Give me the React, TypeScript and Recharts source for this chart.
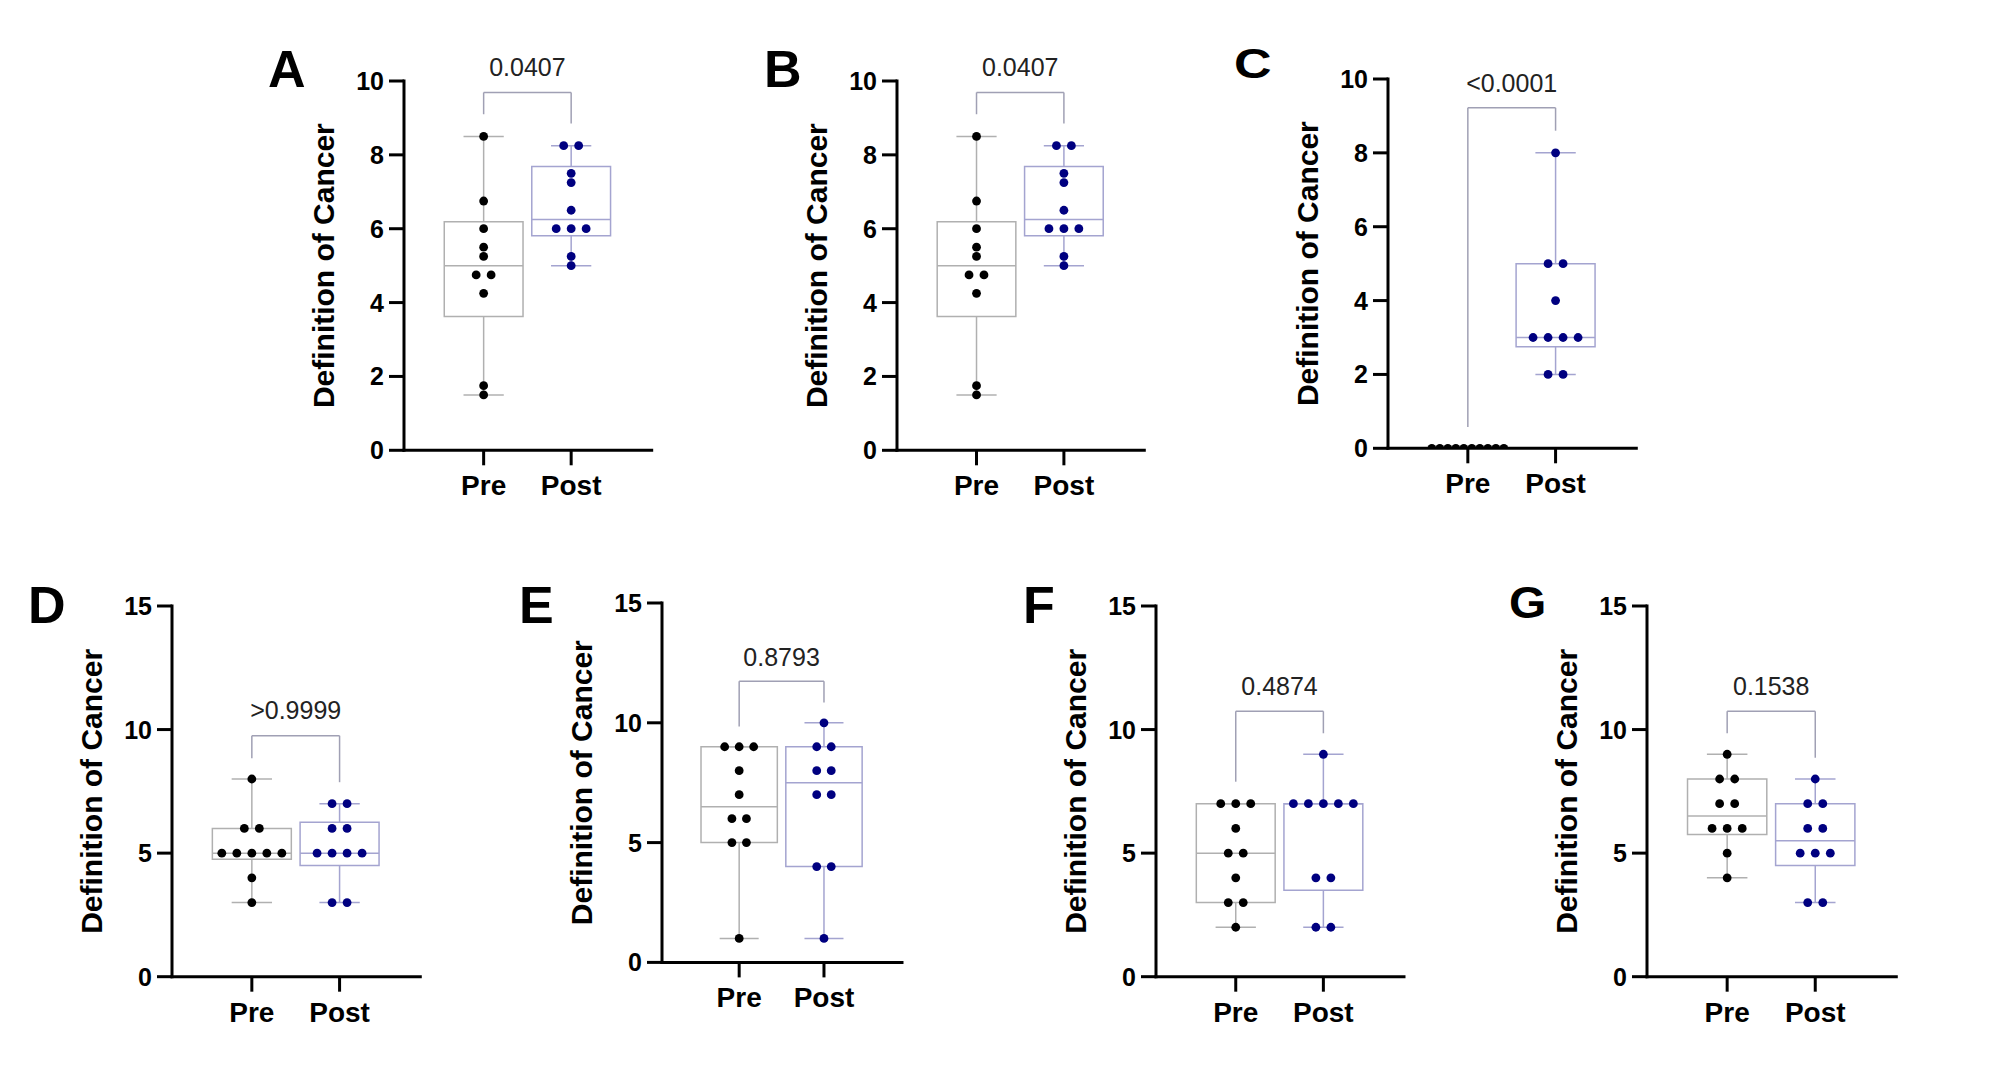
import React from 'react';
import {
    ComposedChart,
    Scatter,
    XAxis,
    YAxis,
    ReferenceArea,
    ReferenceLine,
    ReferenceDot,
} from 'recharts';

// categories
const groups = ['Pre', 'Post'];

// panel scores (10 participants each)
const aPre = [8.5, 6.75, 6, 5.5, 5.25, 4.75, 4.75, 4.25, 1.75, 1.5];
const aPost = [8.25, 8.25, 7.5, 7.25, 6.5, 6, 6, 6, 5.25, 5];
const bPre = [8.5, 6.75, 6, 5.5, 5.25, 4.75, 4.75, 4.25, 1.75, 1.5];
const bPost = [8.25, 8.25, 7.5, 7.25, 6.5, 6, 6, 6, 5.25, 5];
const cPre = [0, 0, 0, 0, 0, 0, 0, 0, 0, 0];
const cPost = [8, 5, 5, 4, 3, 3, 3, 3, 2, 2];
const dPre = [8, 6, 6, 5, 5, 5, 5, 5, 4, 3];
const dPost = [7, 7, 6, 6, 5, 5, 5, 5, 3, 3];
const ePre = [9, 9, 9, 8, 7, 6, 6, 5, 5, 1];
const ePost = [10, 9, 9, 8, 8, 7, 7, 4, 4, 1];
const fPre = [7, 7, 7, 6, 5, 5, 4, 3, 3, 2];
const fPost = [9, 7, 7, 7, 7, 7, 4, 4, 2, 2];
const gPre = [9, 8, 8, 7, 7, 6, 6, 6, 5, 4];
const gPost = [8, 7, 7, 6, 6, 5, 5, 5, 3, 3];

// comparison brackets
const pValues = ['0.0407', '0.0407', '<0.0001', '>0.9999', '0.8793', '0.4874', '0.1538'];
const bracketLeft = [9.1, 9.1, 0.58, 8.84, 9.85, 7.89, 9.85];
const bracketTop = [9.69, 9.69, 9.22, 9.75, 11.73, 10.74, 10.74];
const bracketRight = [8.85, 8.85, 8.6, 7.87, 10.85, 9.85, 8.86];
const pLabelY = [10.37, 10.37, 9.88, 10.79, 12.75, 11.76, 11.76];

// tick labels
const ticks10 = [0, 2, 4, 6, 8, 10];
const ticks15 = [0, 5, 10, 15];
const panelLetters = ['A', 'B', 'C', 'D', 'E', 'F', 'G'];

const FONT = '"Liberation Sans", Arial, sans-serif';
const YW = 120;
const MT = 80;
const XH = 70;
const MR = 10;
const UNIT_PX = 87.7;
const DOT_R = 4.4;

const preStyle = { dot: '#000000', line: '#b0b0b0' };
const postStyle = { dot: '#000080', line: '#a4a4d0' };

// plot boxes of each panel in the page
const layout = [
    { left: 404, top: 80.7, right: 651.7, bottom: 450 },
    { left: 896.7, top: 80.7, right: 1144, bottom: 450 },
    { left: 1387.7, top: 79, right: 1636, bottom: 448.3 },
    { left: 171.7, top: 606, right: 420, bottom: 976.7 },
    { left: 661.7, top: 603.3, right: 901.7, bottom: 962.7 },
    { left: 1156, top: 606, right: 1404, bottom: 976.7 },
    { left: 1646.7, top: 606, right: 1896, bottom: 976.7 },
];

const letterPos = [
    { x: 268, y: 87, size: 52, sy: 1 },
    { x: 764, y: 87, size: 52, sy: 1 },
    { x: 1234, y: 78.5, size: 52, sy: 0.82 },
    { x: 28, y: 623, size: 52, sy: 1 },
    { x: 519, y: 623, size: 52, sy: 1 },
    { x: 1023, y: 623, size: 52, sy: 1 },
    { x: 1509, y: 618, size: 48, sy: 0.92 },
];

function quantile(sorted: number[], p: number) {
    const n = sorted.length;
    const pos = (n + 1) * p;
    const lo = Math.floor(pos);
    const frac = pos - lo;
    if (lo < 1) return sorted[0];
    if (lo >= n) return sorted[n - 1];
    return sorted[lo - 1] + frac * (sorted[lo] - sorted[lo - 1]);
}

function boxStats(values: number[]) {
    const s = [...values].sort((a, b) => a - b);
    return { min: s[0], q1: quantile(s, 0.25), med: quantile(s, 0.5), q3: quantile(s, 0.75), max: s[s.length - 1] };
}

// spread equal values side by side like a column scatter
function spread(values: number[], center: number) {
    const counts: Record<string, number> = {};
    values.forEach((v) => (counts[v] = (counts[v] || 0) + 1));
    const seen: Record<string, number> = {};
    return values.map((v) => {
        const k = counts[v];
        const i = (seen[v] = seen[v] === undefined ? 0 : seen[v] + 1);
        const step = Math.min(15, 80 / k) / UNIT_PX;
        return { x: center + (i - (k - 1) / 2) * step, y: v };
    });
}

const yLabel = (props: any) => {
    const vb = props.viewBox || {};
    const x = vb.x + vb.width - 80;
    const y = vb.y + vb.height / 2;
    return (
        <text
            x={x}
            y={y}
            transform={`rotate(-90 ${x} ${y})`}
            textAnchor="middle"
            dominantBaseline="central"
            fontSize={30}
            fontWeight={700}
            fill="#000"
            fontFamily={FONT}
        >
            Definition of Cancer
        </text>
    );
};

const yTick = (props: any) => (
    <text
        x={props.x}
        y={props.y}
        textAnchor="end"
        dominantBaseline="central"
        fontSize={25}
        fontWeight={700}
        fill="#000"
        fontFamily={FONT}
    >
        {props.payload.value}
    </text>
);

const xTick = (props: any) => (
    <text
        x={props.x}
        y={props.y}
        dy="0.71em"
        textAnchor="middle"
        fontSize={28}
        fontWeight={700}
        fill="#000"
        fontFamily={FONT}
    >
        {groups[props.payload.value - 1]}
    </text>
);

function BoxParts({ values, center, color }: { values: number[]; center: number; color: string }) {
    const st = boxStats(values);
    return [
        <ReferenceLine key="wl" segment={[{ x: center, y: st.min }, { x: center, y: st.q1 }]} stroke={color} strokeWidth={1.5} ifOverflow="visible" />,
        <ReferenceLine key="wh" segment={[{ x: center, y: st.q3 }, { x: center, y: st.max }]} stroke={color} strokeWidth={1.5} ifOverflow="visible" />,
        <ReferenceLine key="cl" segment={[{ x: center - 0.23, y: st.min }, { x: center + 0.23, y: st.min }]} stroke={color} strokeWidth={1.5} ifOverflow="visible" />,
        <ReferenceLine key="ch" segment={[{ x: center - 0.23, y: st.max }, { x: center + 0.23, y: st.max }]} stroke={color} strokeWidth={1.5} ifOverflow="visible" />,
        <ReferenceArea key="box" x1={center - 0.45} x2={center + 0.45} y1={st.q1} y2={st.q3} fill="none" stroke={color} strokeWidth={1.5} ifOverflow="visible" />,
        <ReferenceLine key="md" segment={[{ x: center - 0.45, y: st.med }, { x: center + 0.45, y: st.med }]} stroke={color} strokeWidth={1.5} ifOverflow="visible" />,
    ];
}

function Panel({ idx, pre, post, yMax, ticks }: { idx: number; pre: number[]; post: number[]; yMax: number; ticks: number[] }) {
    const L = layout[idx];
    const width = YW + (L.right - L.left) + MR;
    const height = MT + (L.bottom - L.top) + XH;
    const bracketColor = '#a0a0b4';
    return (
        <div style={{ position: 'absolute', left: L.left - YW, top: L.top - MT, width, height }}>
            <ComposedChart width={width} height={height} margin={{ top: MT, right: MR, bottom: 0, left: 0 }}>
                <XAxis
                    dataKey="x"
                    type="number"
                    domain={[0.09, 2.92]}
                    ticks={[1, 2]}
                    allowDataOverflow
                    height={XH}
                    axisLine={{ stroke: '#000', strokeWidth: 3, strokeLinecap: 'square' }}
                    tickLine={{ stroke: '#000', strokeWidth: 3 }}
                    tickSize={15}
                    tickMargin={10}
                    tick={xTick}
                />
                <YAxis
                    dataKey="y"
                    type="number"
                    domain={[0, yMax]}
                    ticks={ticks}
                    allowDataOverflow
                    width={YW}
                    axisLine={{ stroke: '#000', strokeWidth: 3, strokeLinecap: 'square' }}
                    tickLine={{ stroke: '#000', strokeWidth: 3 }}
                    tickSize={15}
                    tickMargin={5}
                    tick={yTick}
                    label={yLabel}
                />
                {BoxParts({ values: pre, center: 1, color: preStyle.line })}
                {BoxParts({ values: post, center: 2, color: postStyle.line })}
                <ReferenceLine
                    segment={[{ x: 1, y: bracketLeft[idx] }, { x: 1, y: bracketTop[idx] }]}
                    stroke={bracketColor}
                    strokeWidth={1.5}
                    ifOverflow="visible"
                />
                <ReferenceLine
                    segment={[{ x: 1, y: bracketTop[idx] }, { x: 2, y: bracketTop[idx] }]}
                    stroke={bracketColor}
                    strokeWidth={1.5}
                    ifOverflow="visible"
                />
                <ReferenceLine
                    segment={[{ x: 2, y: bracketTop[idx] }, { x: 2, y: bracketRight[idx] }]}
                    stroke={bracketColor}
                    strokeWidth={1.5}
                    ifOverflow="visible"
                />
                <ReferenceDot
                    x={1.5}
                    y={pLabelY[idx]}
                    r={0}
                    ifOverflow="visible"
                    shape={(p: any) => (
                        <text
                            x={p.cx}
                            y={p.cy}
                            textAnchor="middle"
                            dominantBaseline="central"
                            fontSize={25}
                            fill="#222"
                            fontFamily={FONT}
                        >
                            {pValues[idx]}
                        </text>
                    )}
                />
                <Scatter
                    data={spread(pre, 1)}
                    dataKey="y"
                    isAnimationActive={false}
                    shape={(p: any) => <circle cx={p.cx} cy={p.cy} r={DOT_R} fill={preStyle.dot} />}
                />
                <Scatter
                    data={spread(post, 2)}
                    dataKey="y"
                    isAnimationActive={false}
                    shape={(p: any) => <circle cx={p.cx} cy={p.cy} r={DOT_R} fill={postStyle.dot} />}
                />
            </ComposedChart>
        </div>
    );
}

export default function App() {
    return (
        <div style={{ position: 'absolute', left: 0, top: 0, width: 2008, height: 1080, background: '#fff' }}>
            <Panel idx={0} pre={aPre} post={aPost} yMax={10} ticks={ticks10} />
            <Panel idx={1} pre={bPre} post={bPost} yMax={10} ticks={ticks10} />
            <Panel idx={2} pre={cPre} post={cPost} yMax={10} ticks={ticks10} />
            <Panel idx={3} pre={dPre} post={dPost} yMax={15} ticks={ticks15} />
            <Panel idx={4} pre={ePre} post={ePost} yMax={15} ticks={ticks15} />
            <Panel idx={5} pre={fPre} post={fPost} yMax={15} ticks={ticks15} />
            <Panel idx={6} pre={gPre} post={gPost} yMax={15} ticks={ticks15} />
            <svg width={2008} height={1080} style={{ position: 'absolute', left: 0, top: 0, pointerEvents: 'none' }}>
                {panelLetters.map((l, i) => (
                    <text
                        key={l}
                        x={letterPos[i].x}
                        y={letterPos[i].y}
                        fontSize={letterPos[i].size}
                        fontWeight={700}
                        fontFamily={FONT}
                        fill="#000"
                        transform={`translate(0 ${letterPos[i].y}) scale(1 ${letterPos[i].sy}) translate(0 ${-letterPos[i].y})`}
                    >
                        {l}
                    </text>
                ))}
            </svg>
        </div>
    );
}
